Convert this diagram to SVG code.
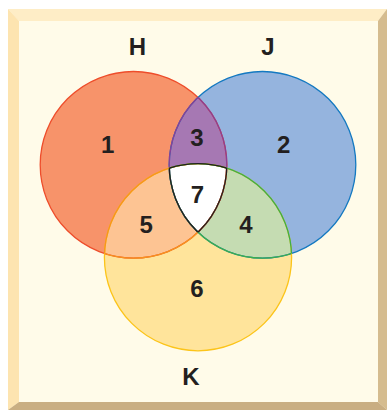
<svg xmlns="http://www.w3.org/2000/svg" xmlns:xlink="http://www.w3.org/1999/xlink" width="387" height="410" viewBox="0 0 387 410">
<style>
.lbl{font-family:"Liberation Sans",Arial,sans-serif;font-weight:bold;font-size:24px;fill:#231f20;text-anchor:middle}
.s{fill:none;stroke-width:1.3}
</style>
<defs>
<circle id="H" cx="133.5" cy="164.8" r="93.3"/>
<circle id="J" cx="262.5" cy="164.8" r="93.3"/>
<circle id="K" cx="198" cy="257.2" r="93.6"/>
<clipPath id="cH"><circle cx="133.5" cy="164.8" r="93.3"/></clipPath>
<clipPath id="cJ"><circle cx="262.5" cy="164.8" r="93.3"/></clipPath>
<clipPath id="cK"><circle cx="198" cy="257.2" r="93.6"/></clipPath>
</defs>
<g id="frame">
<rect x="8" y="9" width="379" height="401" fill="#fffbe9"/>
<polygon points="8,9 387,9 378,21 19,21" fill="#feedc6"/>
<polygon points="8,9 19,21 19,402 8,410" fill="#fde4b0"/>
<polygon points="387,9 387,410 378,402 378,21" fill="#d5bc8f"/>
<polygon points="8,410 387,410 378,402 19,402" fill="#c9ae82"/>
</g>
<g id="fills">
<use id="set-H" xlink:href="#H" fill="#f7936a"/>
<use id="set-J" xlink:href="#J" fill="#95b4de"/>
<use id="set-K" xlink:href="#K" fill="#ffe49b"/>
<g id="region-HJ" clip-path="url(#cH)"><use xlink:href="#J" fill="#a678b3"/></g>
<g id="region-HK" clip-path="url(#cH)"><use xlink:href="#K" fill="#fdc493"/></g>
<g id="region-JK" clip-path="url(#cJ)"><use xlink:href="#K" fill="#c5dcb2"/></g>
<g id="region-HJK" clip-path="url(#cH)"><g clip-path="url(#cJ)"><use xlink:href="#K" fill="#ffffff"/></g></g>
</g>
<g id="outlines">
<use xlink:href="#H" class="s" stroke="#ee4d2b"/>
<use xlink:href="#J" class="s" stroke="#1479c1"/>
<use xlink:href="#K" class="s" stroke="#fcc419"/>
<g clip-path="url(#cJ)"><use xlink:href="#H" class="s" stroke="#8a3f95"/></g>
<g clip-path="url(#cH)"><use xlink:href="#J" class="s" stroke="#8a3f95"/></g>
<g clip-path="url(#cK)"><use xlink:href="#H" class="s" stroke="#f7941e"/></g>
<g clip-path="url(#cH)"><use xlink:href="#K" class="s" stroke="#f7941e"/></g>
<g clip-path="url(#cK)"><use xlink:href="#J" class="s" stroke="#3dae4a"/></g>
<g clip-path="url(#cJ)"><use xlink:href="#K" class="s" stroke="#3dae4a"/></g>
<g clip-path="url(#cJ)"><g clip-path="url(#cK)"><use xlink:href="#H" class="s" stroke="#231f20"/></g></g>
<g clip-path="url(#cH)"><g clip-path="url(#cK)"><use xlink:href="#J" class="s" stroke="#231f20"/></g></g>
<g clip-path="url(#cH)"><g clip-path="url(#cJ)"><use xlink:href="#K" class="s" stroke="#231f20"/></g></g>
</g>
<g id="labels">
<text class="lbl" x="137.5" y="55">H</text>
<text class="lbl" x="268" y="55">J</text>
<text class="lbl" x="191" y="385">K</text>
<text class="lbl" x="107.7" y="153">1</text>
<text class="lbl" x="283.7" y="153">2</text>
<text class="lbl" x="197" y="146">3</text>
<text class="lbl" x="246" y="233">4</text>
<text class="lbl" x="146.3" y="233">5</text>
<text class="lbl" x="197" y="297">6</text>
<text class="lbl" x="197.5" y="203">7</text>
</g>
</svg>
